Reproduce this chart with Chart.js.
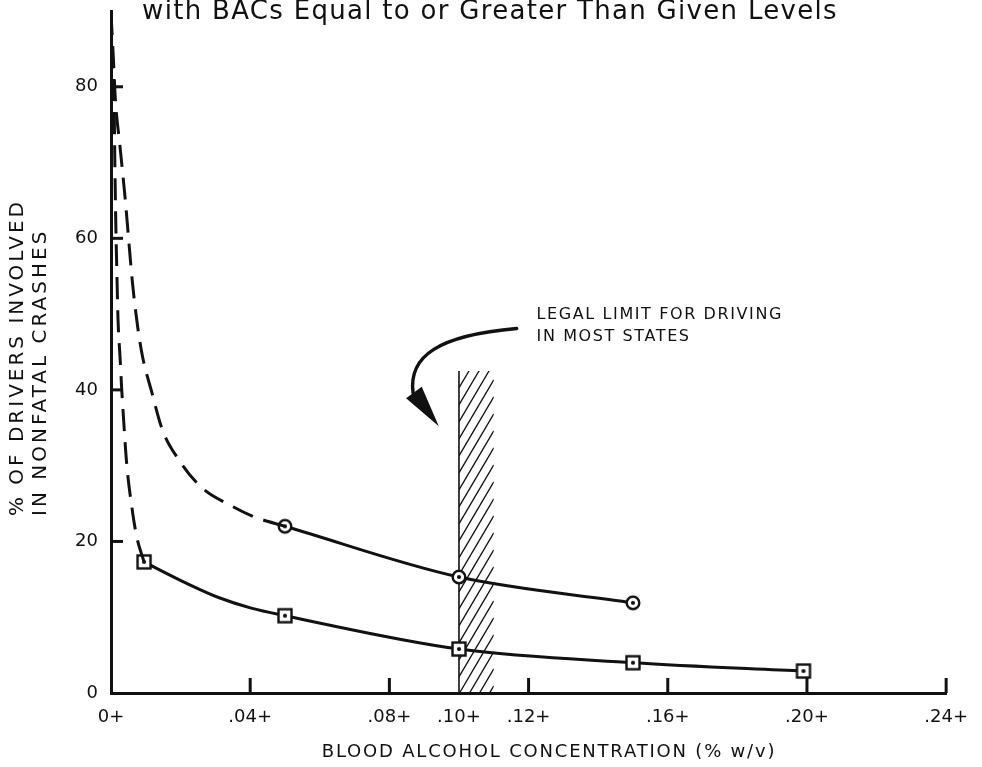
<!DOCTYPE html>
<html>
<head>
<meta charset="utf-8">
<script src="https://cdn.jsdelivr.net/npm/chart.js@4.4.1/dist/chart.umd.min.js"></script>
<style>
  html, body { margin: 0; padding: 0; background: #fff; }
  #wrap { width: 982px; height: 767px; }
</style>
</head>
<body>
<div id="wrap"><canvas id="bacChart" width="982" height="767"></canvas></div>
<script>
// % of drivers in nonfatal crashes with BAC >= given level
// curve points read off the picture, markers only at the measured points
const circleBac = [0, 0.0006, 0.0013, 0.0025, 0.004, 0.0062, 0.0077, 0.0091, 0.0116, 0.0148, 0.0196, 0.0261, 0.0346, 0.0414, 0.05, 0.10, 0.15];
const circlePct = [89.7, 84.5, 78, 72.5, 65.6, 54, 48.2, 44.3, 39.9, 34.7, 30.7, 27.1, 24.7, 23.2, 22, 15.3, 11.9];
const circleMeasured = [0.05, 0.10, 0.15];

const squareBac = [0, 0.0003, 0.0009, 0.0011, 0.0014, 0.0017, 0.002, 0.0026, 0.0031, 0.0034, 0.0045, 0.006, 0.0074, 0.0095, 0.0216, 0.0309, 0.0403, 0.05, 0.10, 0.15, 0.199];
const squarePct = [89.7, 84.3, 77.7, 70.2, 61.4, 55.3, 49.5, 44.3, 39.9, 37.7, 30.3, 24.5, 20.6, 17.3, 14.5, 12.6, 11.2, 10.2, 5.8, 4.0, 2.9];
const squareMeasured = [0.0095, 0.05, 0.10, 0.15, 0.199];

// axis ticks
const xTickValues = [0, 0.04, 0.08, 0.10, 0.12, 0.16, 0.20, 0.24];
const xTickLabels = ['0+', '.04+', '.08+', '.10+', '.12+', '.16+', '.20+', '.24+'];
const xTickMarks = [0.04, 0.08, 0.12, 0.16, 0.20, 0.24];
const yTickValues = [0, 20, 40, 60, 80];
const yTickMarks = [20, 40, 60, 80];

// legal limit band
const legalFrom = 0.10;
const legalTo = 0.11;
const legalTop = 42.5;

const INK = '#111';

function makeMarker(kind) {
  const c = document.createElement('canvas');
  c.width = 18; c.height = 18;
  const g = c.getContext('2d');
  g.fillStyle = '#fff'; g.strokeStyle = INK; g.lineWidth = 2.4;
  if (kind === 'circle') {
    g.beginPath(); g.arc(9, 9, 6.3, 0, Math.PI * 2); g.fill(); g.stroke();
  } else {
    g.fillRect(2.5, 2.5, 13, 13); g.strokeRect(2.5, 2.5, 13, 13);
  }
  g.fillStyle = INK;
  g.beginPath(); g.arc(9, 9, 2.1, 0, Math.PI * 2); g.fill();
  return c;
}
const circleMark = makeMarker('circle');
const squareMark = makeMarker('square');

function spacedText(ctx, text, x, y, spacing) {
  if ('letterSpacing' in ctx) ctx.letterSpacing = spacing + 'px';
  ctx.fillText(text, x, y);
  if ('letterSpacing' in ctx) ctx.letterSpacing = '0px';
}

// hatched band, tick marks, arrow and texts
const decor = {
  id: 'decor',
  beforeDatasetsDraw(chart) {
    const ctx = chart.ctx;
    const xs = chart.scales.x, ys = chart.scales.y;
    const x0 = xs.getPixelForValue(legalFrom), x1 = xs.getPixelForValue(legalTo);
    const yb = ys.getPixelForValue(0), yt = ys.getPixelForValue(legalTop);
    ctx.save();
    ctx.beginPath(); ctx.rect(x0, yt, x1 - x0, yb - yt); ctx.clip();
    ctx.strokeStyle = INK; ctx.lineWidth = 1.3;
    const rise = (x1 - x0) * 1.7;
    for (let y = yt - rise; y < yb + rise; y += 17) {
      ctx.beginPath(); ctx.moveTo(x0, y + rise); ctx.lineTo(x1, y); ctx.stroke();
    }
    ctx.restore();
    ctx.save();
    ctx.strokeStyle = INK; ctx.lineWidth = 1.6;
    ctx.beginPath(); ctx.moveTo(x0, yb); ctx.lineTo(x0, yt); ctx.stroke();
    ctx.restore();
  },
  afterDraw(chart) {
    const ctx = chart.ctx;
    const xs = chart.scales.x, ys = chart.scales.y;
    const area = chart.chartArea;
    const px = v => xs.getPixelForValue(v), py = v => ys.getPixelForValue(v);

    ctx.save();
    ctx.strokeStyle = INK; ctx.fillStyle = INK; ctx.lineWidth = 3;
    xTickMarks.forEach(v => {
      ctx.beginPath(); ctx.moveTo(px(v), area.bottom); ctx.lineTo(px(v), area.bottom - 15); ctx.stroke();
    });
    yTickMarks.forEach(v => {
      ctx.beginPath(); ctx.moveTo(area.left, py(v)); ctx.lineTo(area.left + 12, py(v)); ctx.stroke();
    });

    // curved arrow to the band
    ctx.lineWidth = 3.4; ctx.lineCap = 'round';
    ctx.beginPath();
    ctx.moveTo(px(0.1166), py(48.1));
    ctx.bezierCurveTo(px(0.0942), py(47.2), px(0.0854), py(44.5), px(0.0868), py(39.6));
    ctx.stroke();
    ctx.beginPath();
    ctx.moveTo(px(0.0942), py(35.2));
    ctx.lineTo(px(0.0848), py(38.9));
    ctx.lineTo(px(0.0893), py(40.4));
    ctx.closePath(); ctx.fill();

    ctx.textBaseline = 'middle'; ctx.textAlign = 'left';
    ctx.font = '16px "DejaVu Sans"';
    spacedText(ctx, 'LEGAL LIMIT FOR DRIVING', px(0.1223), py(49.9), 1.6);
    spacedText(ctx, 'IN MOST STATES', px(0.1223), py(47.0), 1.6);

    // axis titles
    ctx.textAlign = 'center';
    ctx.font = '18px "DejaVu Sans"';
    spacedText(ctx, 'BLOOD ALCOHOL CONCENTRATION (% w/v)', 549, 752, 1.8);

    ctx.textAlign = 'left';
    ctx.font = '20px "DejaVu Sans"';
    [['% OF DRIVERS INVOLVED', 18], ['IN NONFATAL CRASHES', 41]].forEach(([t, x]) => {
      ctx.save();
      ctx.translate(x, 516); ctx.rotate(-Math.PI / 2);
      spacedText(ctx, t, 0, 0, 3);
      ctx.restore();
    });

    // chart title (cut at the top edge in the source)
    ctx.textAlign = 'center'; ctx.textBaseline = 'alphabetic';
    ctx.font = '26px "DejaVu Sans"';
    spacedText(ctx, 'with BACs Equal to or Greater Than Given Levels', 490, 19, 1.3);
    ctx.restore();
  }
};

// one dataset for the dashed lead-in, one for the solid measured part
function lineSets(xs, ys, measured, mark) {
  const split = xs.indexOf(measured[0]);
  const pts = xs.map((x, i) => ({ x, y: ys[i] }));
  const base = {
    borderColor: INK,
    borderWidth: 3,
    cubicInterpolationMode: 'monotone'
  };
  const solid = pts.slice(split);
  return [
    Object.assign({}, base, {
      data: pts.slice(0, split + 1),
      borderDash: [22, 11],
      pointRadius: 0
    }),
    Object.assign({}, base, {
      data: solid,
      pointStyle: mark,
      pointRadius: solid.map(p => measured.includes(p.x) ? 7 : 0)
    })
  ];
}

new Chart(document.getElementById('bacChart'), {
  type: 'line',
  data: {
    datasets: [
      ...lineSets(circleBac, circlePct, circleMeasured, circleMark),
      ...lineSets(squareBac, squarePct, squareMeasured, squareMark)
    ]
  },
  options: {
    responsive: false,
    animation: false,
    layout: { padding: { top: 11, right: 25, left: 0, bottom: 0 } },
    plugins: { legend: { display: false }, tooltip: { enabled: false } },
    scales: {
      x: {
        type: 'linear', min: 0, max: 0.24,
        afterBuildTicks: s => { s.ticks = xTickValues.map(v => ({ value: v })); },
        afterFit: s => { s.height = 74; },
        grid: { display: false, drawTicks: false },
        border: { display: true, width: 3, color: INK },
        ticks: {
          autoSkip: false, maxRotation: 0, padding: 14, color: INK,
          font: { family: 'DejaVu Sans', size: 18 },
          callback: v => xTickLabels[xTickValues.indexOf(v)]
        }
      },
      y: {
        type: 'linear', min: 0, max: 90,
        afterBuildTicks: s => { s.ticks = yTickValues.map(v => ({ value: v })); },
        afterFit: s => { s.width = 111; s.paddingTop = 0; s.paddingBottom = 0; },
        grid: { display: false, drawTicks: false },
        border: { display: true, width: 3, color: INK },
        ticks: {
          padding: 13, color: INK,
          font: { family: 'DejaVu Sans', size: 18 }
        }
      }
    }
  },
  plugins: [decor]
});
</script>
</body>
</html>
